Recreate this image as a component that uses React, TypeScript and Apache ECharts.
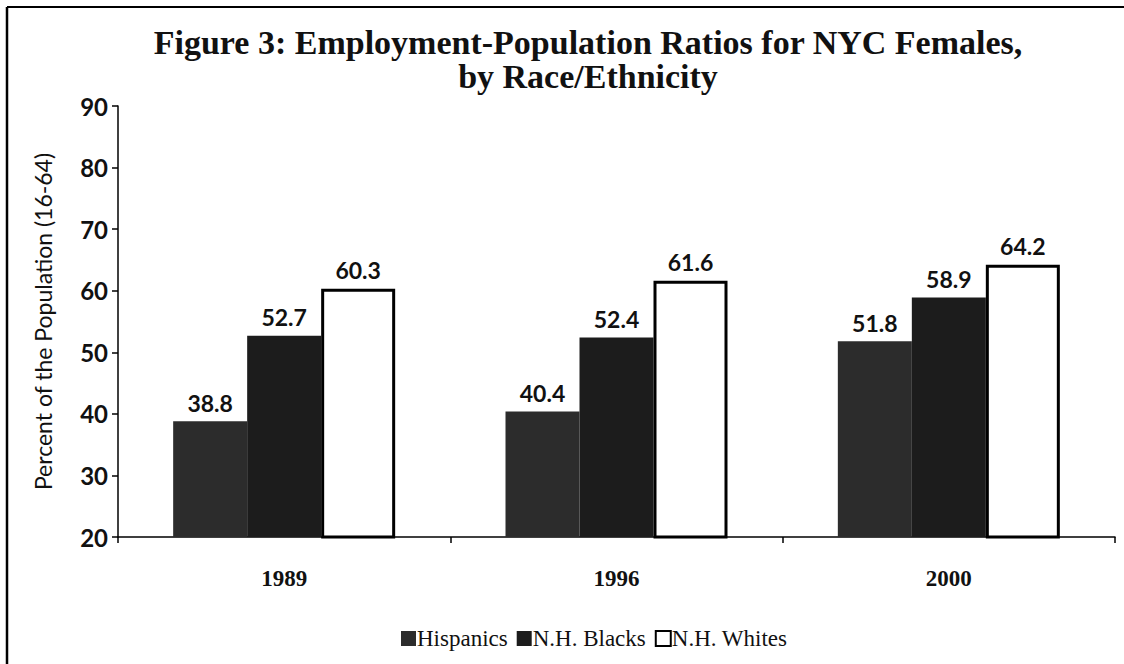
import React, { useEffect, useRef } from "react";
import * as echarts from "echarts";

const categories = ["1989", "1996", "2000"];
const hispanics = [38.8, 40.4, 51.8];
const blacks = [52.7, 52.4, 58.9];
const whites = [60.3, 61.6, 64.2];
const seriesNames = ["Hispanics", "N.H. Blacks", "N.H. Whites"];
const titleLines = [
  "Figure 3: Employment-Population Ratios for NYC Females,",
  "by Race/Ethnicity",
];
const yAxisName = "Percent of the Population (16-64)";

export default function App() {
  const ref = useRef<HTMLDivElement>(null);
  useEffect(() => {
    if (!ref.current) return;
    const chart = echarts.init(ref.current, null, { renderer: "svg" });
    const labelStyle = {
      show: true,
      position: "top" as const,
      distance: 7,
      fontFamily: "Lato",
      fontWeight: "bold" as const,
      fontSize: 23,
      color: "#111",
    };
    chart.setOption({
      animation: false,
      backgroundColor: "#ffffff",
      title: {
        text: titleLines.join("\n"),
        left: 583,
        top: 20,
        textAlign: "center",
        textStyle: {
          fontFamily: "Liberation Serif",
          fontWeight: "bold",
          fontSize: 34,
          lineHeight: 34,
          color: "#111",
        },
      },
      legend: {
        left: 396,
        top: 622,
        itemWidth: 15,
        itemHeight: 15,
        itemGap: 9,
        icon: "rect",
        textStyle: {
          fontFamily: "Liberation Serif",
          fontSize: 23,
          color: "#111",
          padding: [0, 0, 0, -4],
        },
        data: seriesNames,
      },
      grid: { left: 118, right: 9, top: 106, bottom: 127 },
      xAxis: {
        type: "category",
        data: categories,
        axisLine: { lineStyle: { color: "#000", width: 1.5 } },
        axisTick: { show: true, length: 6, alignWithLabel: false, lineStyle: { color: "#000", width: 1.5 } },
        axisLabel: {
          fontFamily: "Liberation Serif",
          fontWeight: "bold",
          fontSize: 23,
          color: "#111",
          margin: 30,
        },
      },
      yAxis: {
        type: "value",
        min: 20,
        max: 90,
        interval: 10,
        name: yAxisName,
        nameLocation: "middle",
        nameGap: 64,
        nameTextStyle: {
          fontFamily: "Lato",
          fontSize: 23,
          color: "#111",
        },
        splitLine: { show: false },
        axisLine: { show: true, lineStyle: { color: "#000", width: 1.5 } },
        axisTick: { show: true, length: 6, lineStyle: { color: "#000", width: 1.5 } },
        axisLabel: {
          fontFamily: "Lato",
          fontWeight: "bold",
          fontSize: 24,
          color: "#111",
          margin: 10,
        },
      },
      graphic: [
        { type: "line", shape: { x1: 7, y1: 7, x2: 1124, y2: 7 }, style: { stroke: "#000", lineWidth: 2 } },
        { type: "line", shape: { x1: 7, y1: 7, x2: 7, y2: 664 }, style: { stroke: "#000", lineWidth: 2.5 } },
      ],
      series: [
        {
          name: seriesNames[0],
          type: "bar",
          data: hispanics,
          barWidth: 74,
          barGap: "0%",
          itemStyle: { color: "#2c2c2c" },
          label: labelStyle,
        },
        {
          name: seriesNames[1],
          type: "bar",
          data: blacks,
          barWidth: 74,
          itemStyle: { color: "#1c1c1c" },
          label: labelStyle,
        },
        {
          name: seriesNames[2],
          type: "bar",
          data: whites,
          barWidth: 74,
          itemStyle: { color: "#ffffff", borderColor: "#000", borderWidth: 3 },
          label: labelStyle,
        },
      ],
    });
    return () => chart.dispose();
  }, []);
  return (
    <div
      ref={ref}
      style={{ position: "fixed", left: 0, top: 0, width: 1124, height: 664 }}
    />
  );
}
